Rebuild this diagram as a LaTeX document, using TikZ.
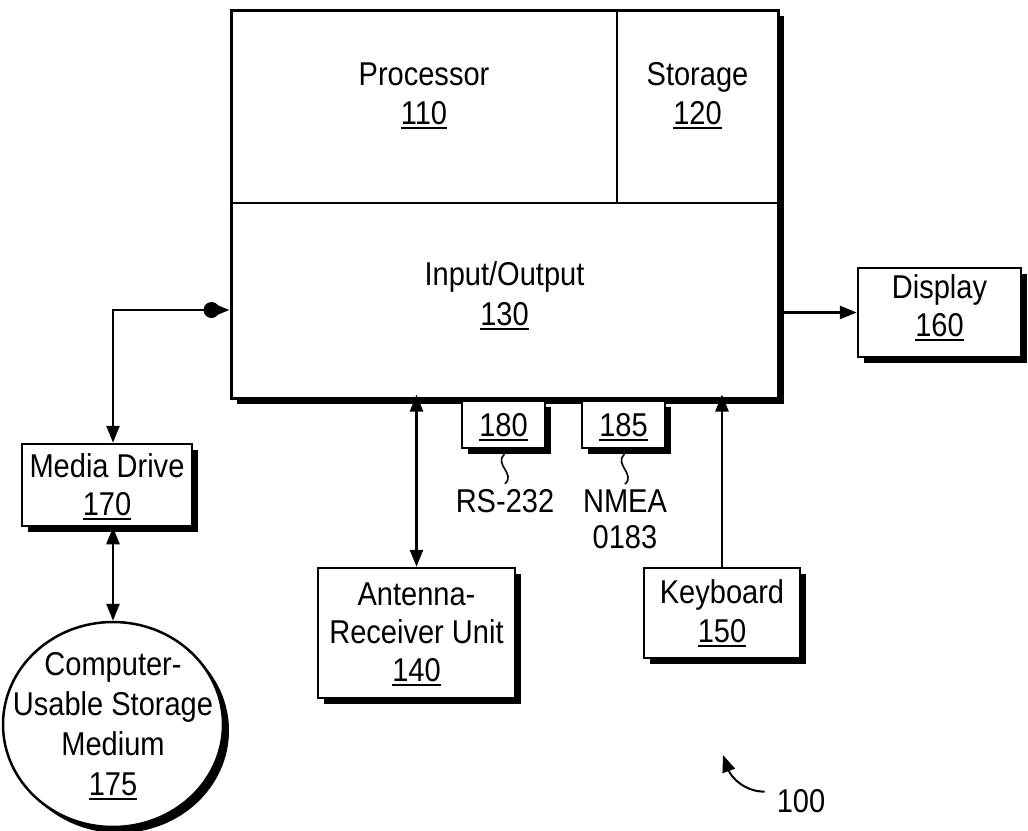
\documentclass[tikz,border=0pt]{standalone}
\usepackage{fontspec}
\setmainfont[FakeStretch=0.88]{Liberation Sans}
\usetikzlibrary{arrows.meta,shadows,calc,shapes.geometric}
\newcommand\unum[1]{\setbox0=\hbox{#1}\leavevmode\vtop{\hbox{\copy0}\kern3pt\hrule height 1.8pt width \wd0}}
\begin{document}
\begin{tikzpicture}[x=1pt,y=-1pt,
  txt/.style={font=\fontsize{33}{40}\selectfont, inner sep=0pt, anchor=base},
  box/.style={draw, line width=2.5pt, fill=white, inner sep=0pt,
    drop shadow={shadow xshift=6pt, shadow yshift=-6pt, opacity=1, fill=black}},
  arr/.style={line width=2.5pt, -{Triangle[length=17pt,width=13pt]}},
  darr/.style={line width=2.5pt, {Triangle[length=17pt,width=13pt]}-{Triangle[length=17pt,width=13pt]}},
  squig/.style={line width=1.6pt}]
\useasboundingbox (0,0) rectangle (1028,830);

% main unit
\node[box, line width=3pt, minimum width=547pt, minimum height=388pt] (main) at (504.5,204) {};
\draw[line width=2.5pt] (main.west |- 0,203) -- (main.east |- 0,203);
\draw[line width=2.5pt] (617,0 |- main.north) -- (617,203);
\node[txt] (proc) at (424,85) {Processor};
\node[txt] (procn) at (424,124) {\unum{110}};
\node[txt] (stor) at (697.5,85) {Storage};
\node[txt] (storn) at (697.5,124) {\unum{120}};
\node[txt] (io) at (504.5,285) {Input/Output};
\node[txt] (ion) at (504.5,325) {\unum{130}};

% ports
\node[box, minimum width=83pt, minimum height=47pt] (p180) at (503.5,424.5) {};
\node[txt] (p180n) at (503.5,436) {\unum{180}};
\node[box, minimum width=83pt, minimum height=47pt] (p185) at (623.5,424.5) {};
\node[txt] (p185n) at (623.5,436) {\unum{185}};
\node[txt] (rs) at (505,512) {RS-232};
\node[txt] (nmea) at (625,512) {NMEA};
\node[txt] (nmean) at (625,548) {0183};
\draw[squig] ($(p180.south)+(1,5)$) .. controls +(-11,10) and +(11,-10) .. ($(rs.north)+(0,-5)$);
\draw[squig] ($(p185.south)+(1,5)$) .. controls +(-11,10) and +(11,-10) .. ($(nmea.north)+(0,-5)$);

% peripherals
\node[box, minimum width=163pt, minimum height=89pt] (disp) at (939.5,312.5) {};
\node[txt] (dispt) at (939.5,298) {Display};
\node[txt] (dispn) at (939.5,336) {\unum{160}};

\node[box, minimum width=170pt, minimum height=82pt] (media) at (107,485) {};
\node[txt] (mediat) at (107,477) {Media Drive};
\node[txt] (median) at (107,515) {\unum{170}};

\node[box, ellipse, minimum width=220pt, minimum height=205pt] (medium) at (113,724.5) {};
\node[txt] (medt1) at (113,675) {Computer-};
\node[txt] (medt2) at (113,715) {Usable Storage};
\node[txt] (medt3) at (113,755) {Medium};
\node[txt] (medn) at (113,795) {\unum{175}};

\node[box, minimum width=197pt, minimum height=130pt] (ant) at (416.5,633) {};
\node[txt] (antt1) at (416.5,605) {Antenna-};
\node[txt] (antt2) at (416.5,643) {Receiver Unit};
\node[txt] (antn) at (416.5,681) {\unum{140}};

\node[box, minimum width=156pt, minimum height=90pt] (kbd) at (722,613) {};
\node[txt] (kbdt) at (722,603) {Keyboard};
\node[txt] (kbdn) at (722,642) {\unum{150}};

\node[txt] (ref) at (801,812) {100};

% connectors
\coordinate (iol) at (main.west |- 0,310);
\draw[arr] (main.east |- disp.west) -- (disp.west);
\draw[darr] (media.north -| medium.north) |- (iol);
\fill ($(iol)+(-18,0)$) circle (8pt);
\draw[darr] (media.south -| medium.north) -- (medium.north);
\draw[darr, shorten >=-5pt] (ant.north) -- (ant.north |- main.south);
\draw[arr, shorten >=-5pt] (kbd.north) -- (kbd.north |- main.south);
\coordinate (refend) at (723,755);
\draw[line width=2pt, -{Triangle[length=17pt,width=13pt]}] ($(ref.west)+(-12,-9)$) to[out=180,in=-70] (refend);
\end{tikzpicture}
\end{document}
